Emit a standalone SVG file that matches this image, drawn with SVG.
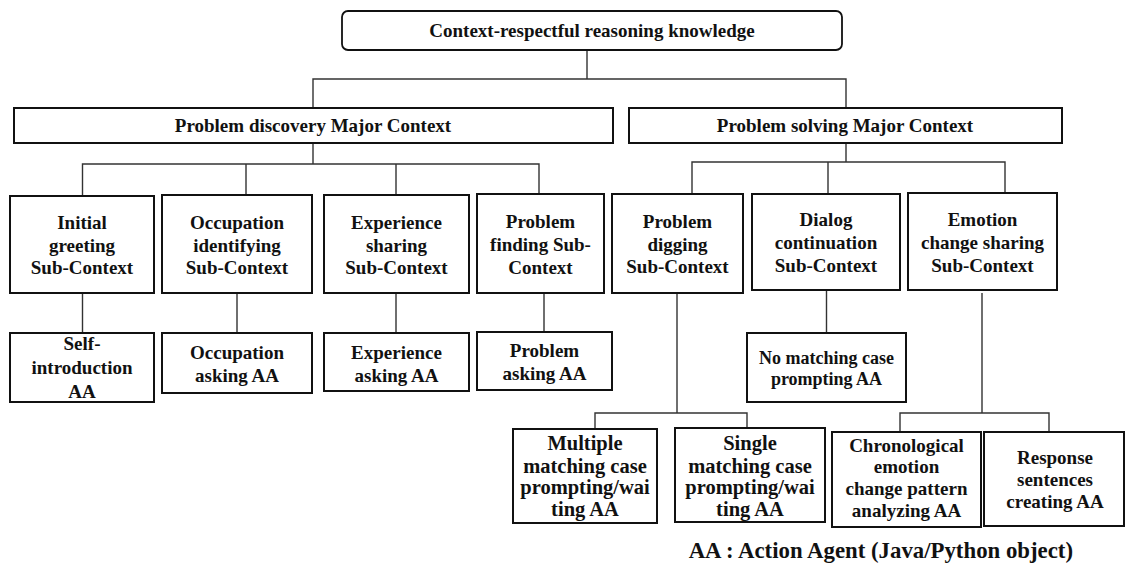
<svg xmlns="http://www.w3.org/2000/svg" width="1127" height="571" viewBox="0 0 1127 571">
  <style>
    text { font-family: "Liberation Serif", "Times New Roman", serif; font-weight: bold; font-size: 19px; fill: #111; text-anchor: middle; }
    .box { fill: #fff; stroke: #111; stroke-width: 2; }
    .root { fill: #fff; stroke: #111; stroke-width: 1.8; }
    .wire { fill: none; stroke: #333; stroke-width: 1.4; }
    .big { font-size: 20.5px; }
    .small { font-size: 18px; }
    .note { font-size: 22.8px; text-anchor: end; }
  </style>

  <!-- connectors -->
  <g id="connectors" class="wire">
    <path d="M587 50V79M313 108V79H846V108"/>
    <path d="M313 143V164M82.5 195V164H539V195M246 164V195M396 164V195"/>
    <path d="M846 143V162M692 194V162H1005V194M828 162V194"/>
    <path d="M82.5 293V333M237 293V333M396 293V333M544 293V332M826.5 290V333"/>
    <path d="M677 293V413M595 429V413H747V429"/>
    <path d="M982 293V413M900 431V413H1049V431"/>
  </g>

  <!-- root -->
  <g id="root">
    <rect class="root" x="342" y="11" width="500" height="39" rx="6"/>
    <text x="592" y="37">Context-respectful reasoning knowledge</text>
  </g>

  <!-- major contexts -->
  <g id="major-discovery">
    <rect class="box" x="14" y="108" width="599" height="35"/>
    <text x="313" y="132">Problem discovery Major Context</text>
  </g>
  <g id="major-solving">
    <rect class="box" x="629" y="108" width="433" height="35"/>
    <text x="845" y="132">Problem solving Major Context</text>
  </g>

  <!-- sub-contexts -->
  <g id="sub-initial-greeting">
    <rect class="box" x="10" y="196" width="144" height="97"/>
    <text x="82" y="229">Initial</text>
    <text x="82" y="251.5">greeting</text>
    <text x="82" y="274">Sub-Context</text>
  </g>
  <g id="sub-occupation">
    <rect class="box" x="162" y="195" width="150" height="98"/>
    <text x="237" y="229">Occupation</text>
    <text x="237" y="251.5">identifying</text>
    <text x="237" y="274">Sub-Context</text>
  </g>
  <g id="sub-experience">
    <rect class="box" x="324" y="195" width="145" height="98"/>
    <text x="396.5" y="229">Experience</text>
    <text x="396.5" y="251.5">sharing</text>
    <text x="396.5" y="274">Sub-Context</text>
  </g>
  <g id="sub-problem-finding">
    <rect class="box" x="477" y="194" width="127" height="99"/>
    <text x="540.5" y="228">Problem</text>
    <text x="540.5" y="251">finding Sub-</text>
    <text x="540.5" y="274">Context</text>
  </g>
  <g id="sub-problem-digging">
    <rect class="box" x="612" y="194" width="131" height="99"/>
    <text x="677.5" y="228">Problem</text>
    <text x="677.5" y="251">digging</text>
    <text x="677.5" y="273">Sub-Context</text>
  </g>
  <g id="sub-dialog">
    <rect class="box" x="752" y="194" width="148" height="96"/>
    <text x="826" y="226">Dialog</text>
    <text x="826" y="249">continuation</text>
    <text x="826" y="272">Sub-Context</text>
  </g>
  <g id="sub-emotion">
    <rect class="box" x="908" y="193" width="149" height="97"/>
    <text x="982.5" y="226">Emotion</text>
    <text x="982.5" y="249">change sharing</text>
    <text x="982.5" y="272">Sub-Context</text>
  </g>

  <!-- action agents -->
  <g id="aa-self-intro">
    <rect class="box" x="10" y="333" width="144" height="69"/>
    <text x="82" y="350">Self-</text>
    <text x="82" y="374">introduction</text>
    <text x="82" y="398">AA</text>
  </g>
  <g id="aa-occupation">
    <rect class="box" x="162" y="333" width="150" height="60"/>
    <text x="237" y="359">Occupation</text>
    <text x="237" y="382">asking AA</text>
  </g>
  <g id="aa-experience">
    <rect class="box" x="324" y="333" width="145" height="58"/>
    <text x="396.5" y="359">Experience</text>
    <text x="396.5" y="382">asking AA</text>
  </g>
  <g id="aa-problem">
    <rect class="box" x="477" y="332" width="135" height="58"/>
    <text x="544.5" y="357">Problem</text>
    <text x="544.5" y="380">asking AA</text>
  </g>
  <g id="aa-no-match">
    <rect class="box" x="747" y="333" width="159" height="69"/>
    <text class="small" x="826.5" y="364">No matching case</text>
    <text class="small" x="826.5" y="385">prompting AA</text>
  </g>
  <g id="aa-multiple">
    <rect class="box" x="513" y="429" width="144" height="94"/>
    <text class="big" x="585" y="450">Multiple</text>
    <text class="big" x="585" y="472.5">matching case</text>
    <text class="big" x="585" y="494">prompting/wai</text>
    <text class="big" x="585" y="515.5">ting AA</text>
  </g>
  <g id="aa-single">
    <rect class="box" x="675" y="428" width="150" height="94"/>
    <text class="big" x="750" y="450">Single</text>
    <text class="big" x="750" y="472.5">matching case</text>
    <text class="big" x="750" y="494">prompting/wai</text>
    <text class="big" x="750" y="515.5">ting AA</text>
  </g>
  <g id="aa-chronological">
    <rect class="box" x="832" y="432" width="149" height="95"/>
    <text x="906.5" y="452">Chronological</text>
    <text x="906.5" y="473">emotion</text>
    <text x="906.5" y="495">change pattern</text>
    <text x="906.5" y="517">analyzing AA</text>
  </g>
  <g id="aa-response">
    <rect class="box" x="984" y="432" width="140" height="94"/>
    <text x="1055" y="464">Response</text>
    <text x="1055" y="486">sentences</text>
    <text x="1055" y="508">creating AA</text>
  </g>

  <!-- legend -->
  <text class="note" x="1073" y="558">AA : Action Agent (Java/Python object)</text>
</svg>
